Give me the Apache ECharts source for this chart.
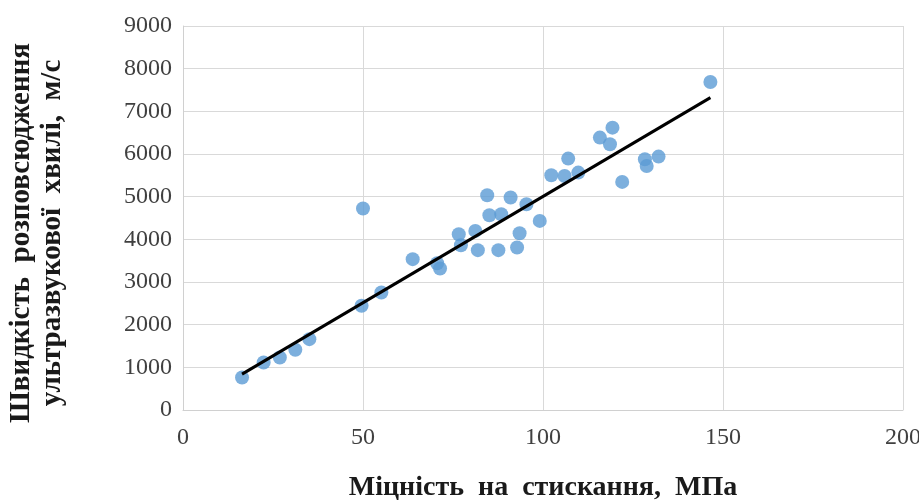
<!DOCTYPE html>
<html>
<head>
<meta charset="utf-8">
<script src="https://cdn.jsdelivr.net/npm/echarts@6/dist/echarts.min.js"></script>
<style>
  html, body { margin: 0; padding: 0; background: #fff; }
  #chart { width: 919px; height: 502px; }
</style>
</head>
<body>
<div id="chart"></div>
<script>
// Compressive strength, MPa
const strength = [16.4, 22.4, 26.9, 31.2, 35.1, 49.6, 50.0, 55.1, 63.8, 70.6, 71.4,
  76.6, 77.2, 81.2, 81.9, 84.5, 85.1, 87.6, 88.4, 91.0, 92.8, 93.5, 95.4, 99.1,
  102.3, 106.0, 107.0, 109.8, 115.8, 118.6, 119.3, 122.0, 128.3, 128.8, 132.1, 146.5];
// Ultrasonic pulse velocity, m/s
const velocity = [763, 1115, 1232, 1411, 1661, 2442, 4721, 2754, 3535, 3440, 3316,
  4120, 3863, 4198, 3746, 5034, 4565, 3746, 4589, 4979, 3808, 4144, 4823, 4432,
  5502, 5486, 5892, 5564, 6384, 6228, 6618, 5346, 5877, 5720, 5939, 7688];

// Linear trend line: velocity = trendSlope * strength + trendIntercept
const trendSlope = 49.8;
const trendIntercept = 25;

const xTicks = [0, 50, 100, 150, 200];
const yTicks = [0, 1000, 2000, 3000, 4000, 5000, 6000, 7000, 8000, 9000];

const xTitle = 'Міцність  на  стискання,  МПа';
const yTitle = ['Швидкість  розповсюдження', 'ультразвукової  хвилі,  м/с'];

const xMin = Math.min(...strength), xMax = Math.max(...strength);
const trend = [xMin, xMax].map(x => [x, trendSlope * x + trendIntercept]);
const points = strength.map((x, i) => [x, velocity[i]]);

const serif = '"Liberation Serif", "DejaVu Serif", serif';
const chart = echarts.init(document.getElementById('chart'));
chart.setOption({
  animation: false,
  backgroundColor: '#ffffff',
  grid: { left: 183, right: 16, top: 26, bottom: 92, containLabel: false, outerBoundsMode: 'none' },
  xAxis: {
    type: 'value',
    min: xTicks[0], max: xTicks[xTicks.length - 1], interval: xTicks[1] - xTicks[0],
    axisLine: { show: true, lineStyle: { color: '#d0d0d0', width: 1 } },
    axisTick: { show: false },
    splitLine: { show: true, lineStyle: { color: '#d9d9d9', width: 1 } },
    axisLabel: { color: '#404040', fontFamily: serif, fontSize: 24, margin: 16,
      formatter: v => String(v) },
    name: xTitle,
    nameLocation: 'middle',
    nameGap: 64,
    nameTextStyle: { color: '#1a1a1a', fontFamily: serif, fontSize: 28, fontWeight: 'bold' }
  },
  yAxis: {
    type: 'value',
    min: yTicks[0], max: yTicks[yTicks.length - 1], interval: yTicks[1] - yTicks[0],
    axisLine: { show: true, lineStyle: { color: '#d0d0d0', width: 1 } },
    axisTick: { show: false },
    splitLine: { show: true, lineStyle: { color: '#d9d9d9', width: 1 } },
    axisLabel: { color: '#404040', fontFamily: serif, fontSize: 24, margin: 11,
      formatter: v => String(v) },
    name: yTitle.join('\n'),
    nameLocation: 'middle',
    nameRotate: 90,
    nameGap: 115,
    nameTextStyle: { color: '#1a1a1a', fontFamily: serif, fontSize: 29, fontWeight: 'bold',
      lineHeight: 31, padding: [0, 30, 0, 0] }
  },
  series: [
    {
      type: 'scatter',
      data: points,
      symbol: 'circle',
      symbolSize: 14,
      itemStyle: { color: '#5B9BD5' },
      z: 2
    },
    {
      type: 'line',
      data: trend,
      symbol: 'none',
      lineStyle: { color: '#000000', width: 3 },
      z: 3
    }
  ]
});
</script>
</body>
</html>
